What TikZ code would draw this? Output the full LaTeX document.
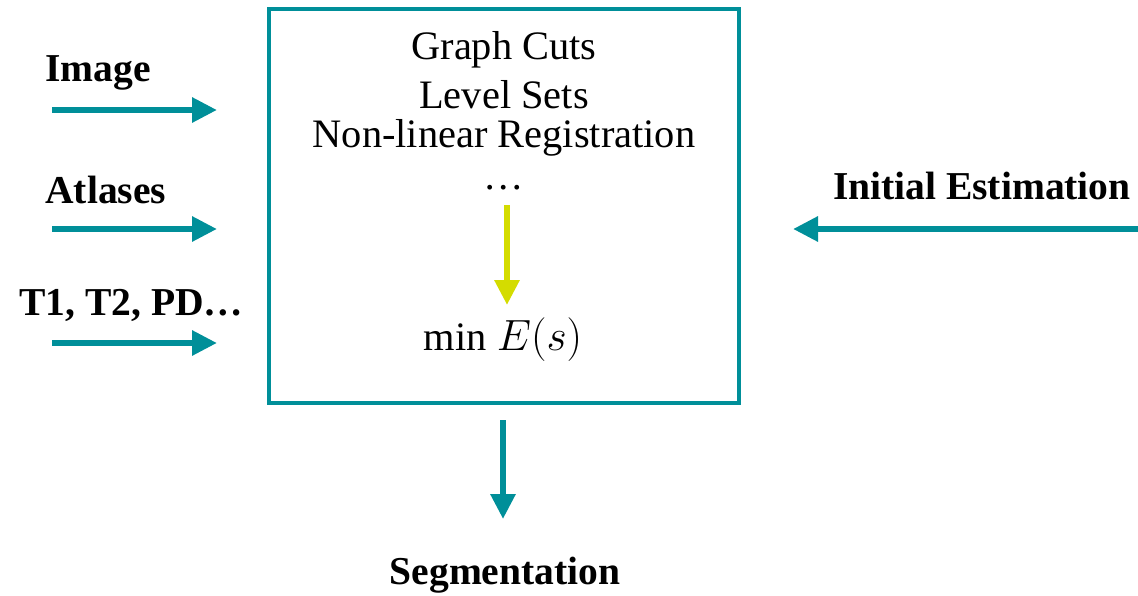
\documentclass[tikz,border=0pt]{standalone}
\usepackage{fontspec}
\setmainfont{Liberation Serif}
\usetikzlibrary{arrows.meta}
\definecolor{tealc}{RGB}{0,143,153}
\definecolor{limec}{RGB}{212,220,0}
\tikzset{
  lbl/.style={font=\fontsize{22.5}{27}\selectfont\bfseries, inner sep=0pt},
  inbox/.style={font=\fontsize{23}{27}\selectfont, inner sep=0pt},
  flow/.style={draw=tealc, line width=3.4pt, -{Triangle[length=0.5cm, width=0.48cm]}},
  step arrow/.style={draw=limec, line width=3.4pt, -{Triangle[length=0.5cm, width=0.48cm]}}
}
\begin{document}
\begin{tikzpicture}[x=0.02cm, y=-0.02cm]
\useasboundingbox (0,0) rectangle (1138,595);
\draw[tealc, line width=2.3pt] (269,9) rectangle (739,403);
\node[lbl, anchor=west] (img) at (45,73) {Image};
\node[lbl, anchor=west] (atl) at (45,190) {Atlases};
\node[lbl, anchor=west] (mod) at (19,305) {T1, T2, PD\dots};
\node[lbl, anchor=east] (ini) at (1131,186) {Initial Estimation};
\node[lbl] (seg) at (505,575) {Segmentation};
\node[inbox] (gc) at (504,50) {Graph Cuts};
\node[inbox] (ls) at (504,95) {Level Sets};
\node[inbox] (nr) at (504,138) {Non-linear Registration};
\node[inbox] (dots) at (504,188) {\dots};
\node[inbox] (en) at (503,340) {min $E(s)$};
\coordinate (a1) at (52,110); \coordinate (b1) at (217,110);
\coordinate (a2) at (52,229); \coordinate (b2) at (217,229);
\coordinate (a3) at (52,343); \coordinate (b3) at (217,343);
\coordinate (a4) at (1138,229); \coordinate (b4) at (793,229);
\coordinate (a5) at (503,420); \coordinate (b5) at (503,519);
\coordinate (a6) at (507,205); \coordinate (b6) at (507,305);
\draw[flow] (a1) -- (b1);
\draw[flow] (a2) -- (b2);
\draw[flow] (a3) -- (b3);
\draw[flow] (a4) -- (b4);
\draw[flow] (a5) -- (b5);
\draw[step arrow] (a6) -- (b6);
\end{tikzpicture}
\end{document}
